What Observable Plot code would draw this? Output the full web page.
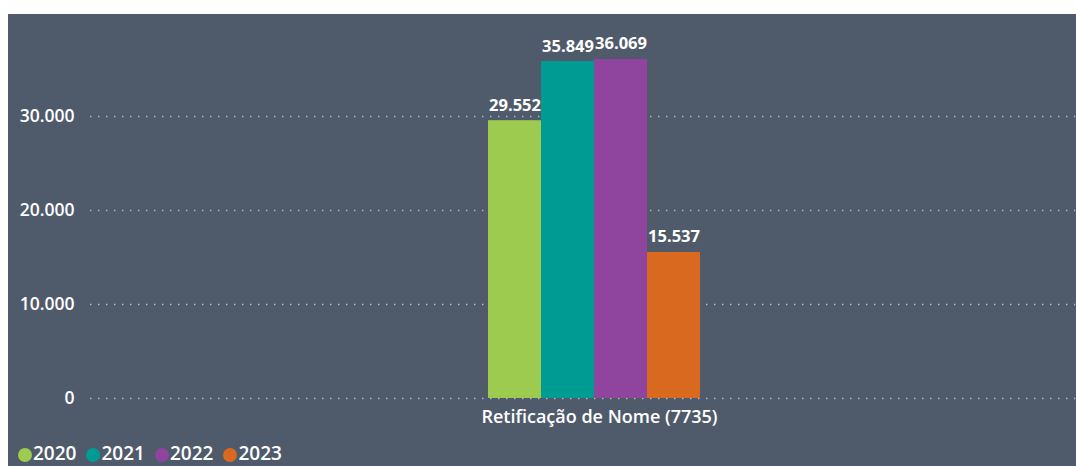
<!DOCTYPE html>
<html>
<head>
<meta charset="utf-8">
<script src="https://cdn.jsdelivr.net/npm/d3@7"></script>
<script src="https://cdn.jsdelivr.net/npm/@observablehq/plot@0.6"></script>
<style>
  html, body { margin: 0; padding: 0; background: #ffffff; }
  #panel {
    position: absolute; left: 8px; top: 14px; width: 1068px; height: 452px;
    background: #4f5b6b; overflow: hidden;
    font-family: "Open Sans", "Noto Sans", sans-serif;
  }
  #chart { position: absolute; left: 0; top: 0; }
  #legend {
    position: absolute; left: 10px; top: 429px; display: flex; gap: 10px;
    color: #ffffff; font-size: 19px; font-weight: 600; line-height: 20px;
  }
  #legend .item { display: flex; align-items: center; gap: 1px; }
  #legend .dot { width: 14px; height: 14px; border-radius: 50%; display: inline-block; margin-top: 3px; }
</style>
</head>
<body>
<div id="panel">
  <div id="chart"></div>
  <div id="legend"></div>
</div>
<script>
const categories = ["Retificação de Nome (7735)"];
const years = ["2020", "2021", "2022", "2023"];
const values = [29552, 35849, 36069, 15537];
const colors = ["#9ccb4f", "#009b93", "#8f449d", "#d8691f"];
const yTicks = [0, 10000, 20000, 30000];

const locale = d3.formatLocale({decimal: ",", thousands: ".", grouping: [3], currency: ["R$", ""]});
const fmt = locale.format(",d");

const rows = years.map((y, i) => ({category: categories[0], year: y, value: values[i]}));

const chart = Plot.plot({
  width: 1068,
  height: 425,
  marginLeft: 82,
  marginRight: -22,
  marginTop: 8,
  marginBottom: 41,
  style: {background: "transparent", color: "#ffffff", fontFamily: "'Open Sans', 'Noto Sans', sans-serif", overflow: "visible"},
  x: {domain: years, paddingInner: 0, paddingOuter: 7.42, align: 0.5, axis: null},
  y: {domain: [0, 40000], ticks: yTicks, tickFormat: fmt, tickSize: 0, tickPadding: 16, label: null},
  color: {domain: years, range: colors},
  marks: [
    Plot.ruleY(yTicks, {stroke: "#c3cad4", strokeOpacity: 0.85, strokeWidth: 1.4, strokeDasharray: "1.4,6.6"}),
    Plot.barY(rows, {x: "year", y: "value", fill: "year"}),
    Plot.text(rows, {x: "year", y: "value", text: d => fmt(d.value), lineAnchor: "bottom", dy: -10, fill: "#ffffff", fontWeight: "bold", fontSize: 16.5}),
    Plot.text(categories, {frameAnchor: "bottom", lineAnchor: "middle", dy: 19, dx: 5, fill: "#ffffff", fontWeight: 600, fontSize: 18})
  ]
});
chart.querySelectorAll("[aria-label='y-axis tick label']").forEach(n => { n.setAttribute("font-size", "17.5"); n.setAttribute("font-weight", "600"); });
document.getElementById("chart").appendChild(chart);

const legend = document.getElementById("legend");
years.forEach((y, i) => {
  const item = document.createElement("span");
  item.className = "item";
  const dot = document.createElement("span");
  dot.className = "dot";
  dot.style.background = colors[i];
  const t = document.createElement("span");
  t.textContent = y;
  item.appendChild(dot);
  item.appendChild(t);
  legend.appendChild(item);
});
</script>
</body>
</html>
